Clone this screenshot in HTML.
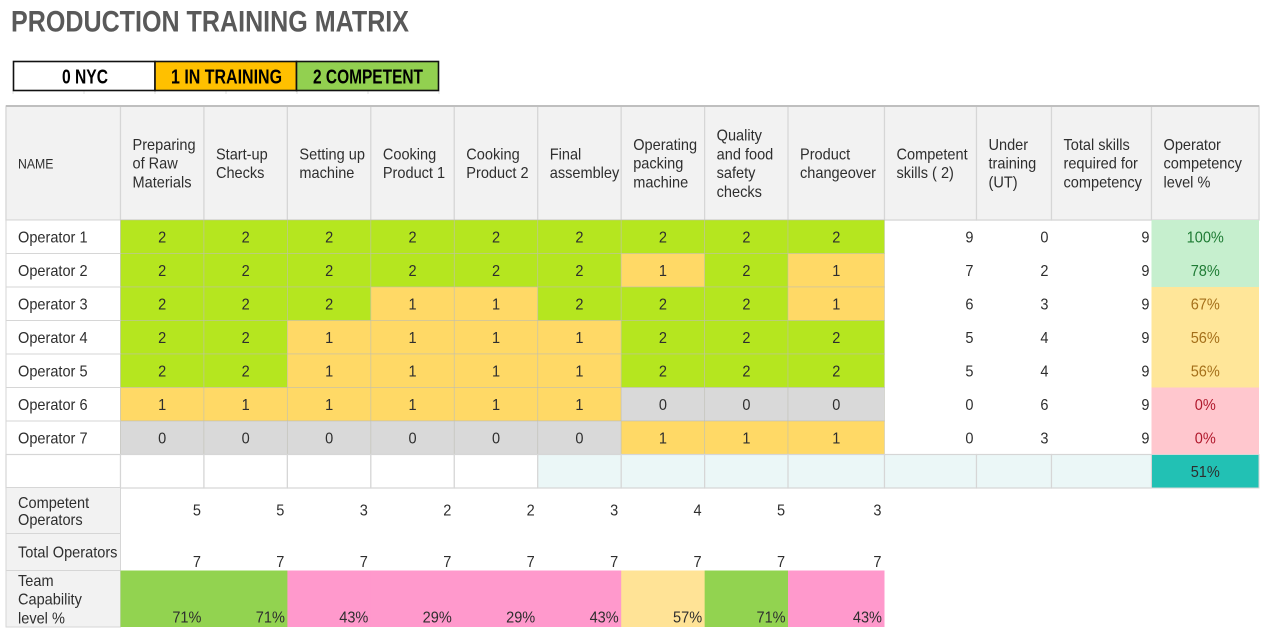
<!DOCTYPE html>
<html lang="en">
<head>
<meta charset="utf-8">
<title>Production Training Matrix</title>
<style>
html,body{margin:0;padding:0;background:#fff;width:1278px;height:637px;overflow:hidden}
svg{display:block;position:absolute;left:0;top:0}
text{font-family:"Liberation Sans",sans-serif;font-size:16px;fill:#2e2e2e;dominant-baseline:central}
</style>
</head>
<body>
<svg id="matrix" width="1278" height="637" viewBox="0 0 1278 637" xmlns="http://www.w3.org/2000/svg">
  <text x="11" y="22" textLength="398" lengthAdjust="spacingAndGlyphs" style="font-size:30px;font-weight:700;fill:#595959">PRODUCTION TRAINING MATRIX</text>
  <g stroke="#e0e0e0" stroke-width="1">
    <line x1="13" y1="90" x2="13" y2="94"/><line x1="84" y1="90" x2="84" y2="94"/><line x1="155" y1="90" x2="155" y2="94"/><line x1="226" y1="90" x2="226" y2="94"/><line x1="297" y1="90" x2="297" y2="94"/><line x1="368" y1="90" x2="368" y2="94"/><line x1="439" y1="90" x2="439" y2="94"/>
  </g>
  <rect x="13.5" y="61.5" width="141.5" height="29" fill="#ffffff" stroke="#111" stroke-width="1.6"/>
  <rect x="155" y="61.5" width="141.5" height="29" fill="#ffc000" stroke="#111" stroke-width="1.6"/>
  <rect x="296.5" y="61.5" width="142" height="29" fill="#92d050" stroke="#111" stroke-width="1.6"/>
  <text x="62" y="77" textLength="46" lengthAdjust="spacingAndGlyphs" style="font-size:20.5px;font-weight:700;fill:#000">0 NYC</text>
  <text x="171" y="77" textLength="111" lengthAdjust="spacingAndGlyphs" style="font-size:20.5px;font-weight:700;fill:#000">1 IN TRAINING</text>
  <text x="313" y="77" textLength="110" lengthAdjust="spacingAndGlyphs" style="font-size:20.5px;font-weight:700;fill:#000">2 COMPETENT</text>
  <g id="layer"></g>
</svg>
<script>
const operators = ["Operator 1","Operator 2","Operator 3","Operator 4","Operator 5","Operator 6","Operator 7"];
const skills = [["Preparing","of Raw","Materials"],["Start-up","Checks"],["Setting up","machine"],["Cooking","Product 1"],["Cooking","Product 2"],["Final","assembley"],["Operating","packing","machine"],["Quality","and food","safety","checks"],["Product","changeover"]];
const summaryHeads = [["Competent","skills ( 2)"],["Under","training","(UT)"],["Total skills","required for","competency"],["Operator","competency","level %"]];
const levelsOp1 = [2,2,2,2,2,2,2,2,2];
const levelsOp2 = [2,2,2,2,2,2,1,2,1];
const levelsOp3 = [2,2,2,1,1,2,2,2,1];
const levelsOp4 = [2,2,1,1,1,1,2,2,2];
const levelsOp5 = [2,2,1,1,1,1,2,2,2];
const levelsOp6 = [1,1,1,1,1,1,0,0,0];
const levelsOp7 = [0,0,0,0,0,0,1,1,1];
const competentSkills = [9,7,6,5,5,0,0];
const underTraining = [0,2,3,4,4,6,3];
const totalSkills = [9,9,9,9,9,9,9];
const competencyPct = [100,78,67,56,56,0,0];
const overallPct = 51;
const competentOperators = [5,5,3,2,2,3,4,5,3];
const totalOperators = [7,7,7,7,7,7,7,7,7];
const teamPct = [71,71,43,29,29,43,57,71,43];

const levels = [levelsOp1,levelsOp2,levelsOp3,levelsOp4,levelsOp5,levelsOp6,levelsOp7];
const NS = "http://www.w3.org/2000/svg";
const layer = document.getElementById("layer");
const SQUEEZE = 0.91;

function skillX(i){ return i < 8 ? 120.5 + i * 83.45 : (i === 8 ? 788 : 884.5); }
function skillW(i){ return i < 8 ? 83.45 : 96.5; }
function rowY(i){ return 220 + i * 33.5; }
function summaryX(i){ return i === 0 ? 884.5 : i === 1 ? 976.5 : i === 2 ? 1051.5 : i === 3 ? 1151.5 : 1259; }
function levelFill(v){ return v === 2 ? "#b5e61f" : v === 1 ? "#ffd966" : "#d9d9d9"; }
function pctFill(p){ return p >= 70 ? "#c6efce" : p >= 50 ? "#ffe699" : "#ffc7ce"; }
function pctInk(p){ return p >= 70 ? "#1e7b34" : p >= 50 ? "#a5701a" : "#b0182c"; }
function teamFill(p){ return p >= 70 ? "#92d350" : p >= 50 ? "#ffe396" : "#ff99cc"; }

function box(x,y,w,h,fill,stroke,sw,name){
  const r = document.createElementNS(NS,"rect");
  r.setAttribute("x",x); r.setAttribute("y",y); r.setAttribute("width",w); r.setAttribute("height",h);
  r.setAttribute("fill",fill);
  if(stroke){ r.setAttribute("stroke",stroke); r.setAttribute("stroke-width",sw); }
  
  
  layer.appendChild(r);
  return r;
}
function label(x,y,str,anchor,name,ink,size){
  const t = document.createElementNS(NS,"text");
  t.setAttribute("transform","translate("+x+","+(y+1)+") scale("+SQUEEZE+",1)");
  t.setAttribute("text-anchor",anchor);
  if(ink) t.style.fill = ink;
  if(size) t.style.fontSize = size + "px";
  t.textContent = str;
  
  
  layer.appendChild(t);
  return t;
}
function lines(x,cy,arr,pitch,name){
  arr.forEach(function(s,k){
    label(x, cy + (k - (arr.length-1)/2) * pitch, s, "start", name);
  });
}

const GRID = "#d6d6d6";

/* header */
box(6,106,1253,114,"#f2f2f2",GRID,1.2,"header-row-background");
box(6,106,114.5,114,"#f2f2f2",GRID,1.2,"name-header-cell");
label(18,163,"NAME","start","name-header",null,13.5);
skills.forEach(function(s,i){
  box(skillX(i),106,skillW(i),114,"#f2f2f2",GRID,1.2,"skill-header-cell");
  lines(skillX(i)+12,163,s,18.7,"skill-header");
});
summaryHeads.forEach(function(s,i){
  box(summaryX(i),106,summaryX(i+1)-summaryX(i),114,"#f2f2f2",GRID,1.2,"summary-header-cell");
  lines(summaryX(i)+12,163,s,18.7,"summary-header");
});
box(6,105,1253,2,"#bfbfbf",null,0,"header-top-rule");

/* operator rows */
operators.forEach(function(name,r){
  const y = rowY(r), cy = y + 17;
  box(6,y,114.5,33.5,"#ffffff",GRID,1,"operator-name-cell");
  label(18,cy,name,"start","operator-name");
  levels[r].forEach(function(v,c){
    box(skillX(c),y,skillW(c),33.5,levelFill(v),"rgba(190,190,180,.6)",0.8,"skill-level-cell");
    label(skillX(c)+skillW(c)/2,cy,String(v),"middle","skill-level-value");
  });
  label(summaryX(1)-3,cy,String(competentSkills[r]),"end","competent-skills-value");
  label(summaryX(2)-3,cy,String(underTraining[r]),"end","under-training-value");
  label(summaryX(3)-2,cy,String(totalSkills[r]),"end","total-skills-value");
  box(summaryX(3),y,summaryX(4)-summaryX(3),33.5,pctFill(competencyPct[r]),null,0,"competency-cell");
  label((summaryX(3)+summaryX(4))/2,cy,competencyPct[r]+"%","middle","competency-value",pctInk(competencyPct[r]));
});

/* spacer / average row */
const avgY = rowY(7);
box(6,avgY,114.5,33.5,"#ffffff",GRID,1.2,"average-row-name-cell");
skills.forEach(function(s,i){
  box(skillX(i),avgY,skillW(i),33.5,i < 5 ? "#ffffff" : "#ebf7f7",GRID,1.2,"average-row-cell");
});
[0,1,2].forEach(function(i){
  box(summaryX(i),avgY,summaryX(i+1)-summaryX(i),33.5,"#ebf7f7",GRID,1.2,"average-row-summary-cell");
});
box(summaryX(3),avgY,summaryX(4)-summaryX(3),33.5,"#22c1b4",GRID,1,"overall-competency-cell");
label((summaryX(3)+summaryX(4))/2,avgY+17,overallPct+"%","middle","overall-competency-value");

/* footer rows */
box(6,487.5,114.5,46,"#f2f2f2",GRID,1,"competent-operators-label-cell");
lines(18,511,["Competent","Operators"],17,"competent-operators-label");
box(6,533.5,114.5,37,"#f2f2f2",GRID,1,"total-operators-label-cell");
label(18,552,"Total Operators","start","total-operators-label");
box(6,570.5,114.5,56.5,"#f2f2f2",GRID,1,"team-capability-label-cell");
lines(18,599,["Team","Capability","level %"],18.7,"team-capability-label");

competentOperators.forEach(function(v,i){
  label(skillX(i)+skillW(i)-3,510,String(v),"end","competent-operators-value");
});
totalOperators.forEach(function(v,i){
  label(skillX(i)+skillW(i)-3,561.5,String(v),"end","total-operators-value");
});
teamPct.forEach(function(p,i){
  box(skillX(i),570.5,skillW(i)+(i < 8 ? 0.5 : 0),56.5,teamFill(p),null,0,"team-capability-cell");
});
teamPct.forEach(function(p,i){
  label(skillX(i)+skillW(i)-2.5,617,p+"%","end","team-capability-value");
});
</script>
</body>
</html>
